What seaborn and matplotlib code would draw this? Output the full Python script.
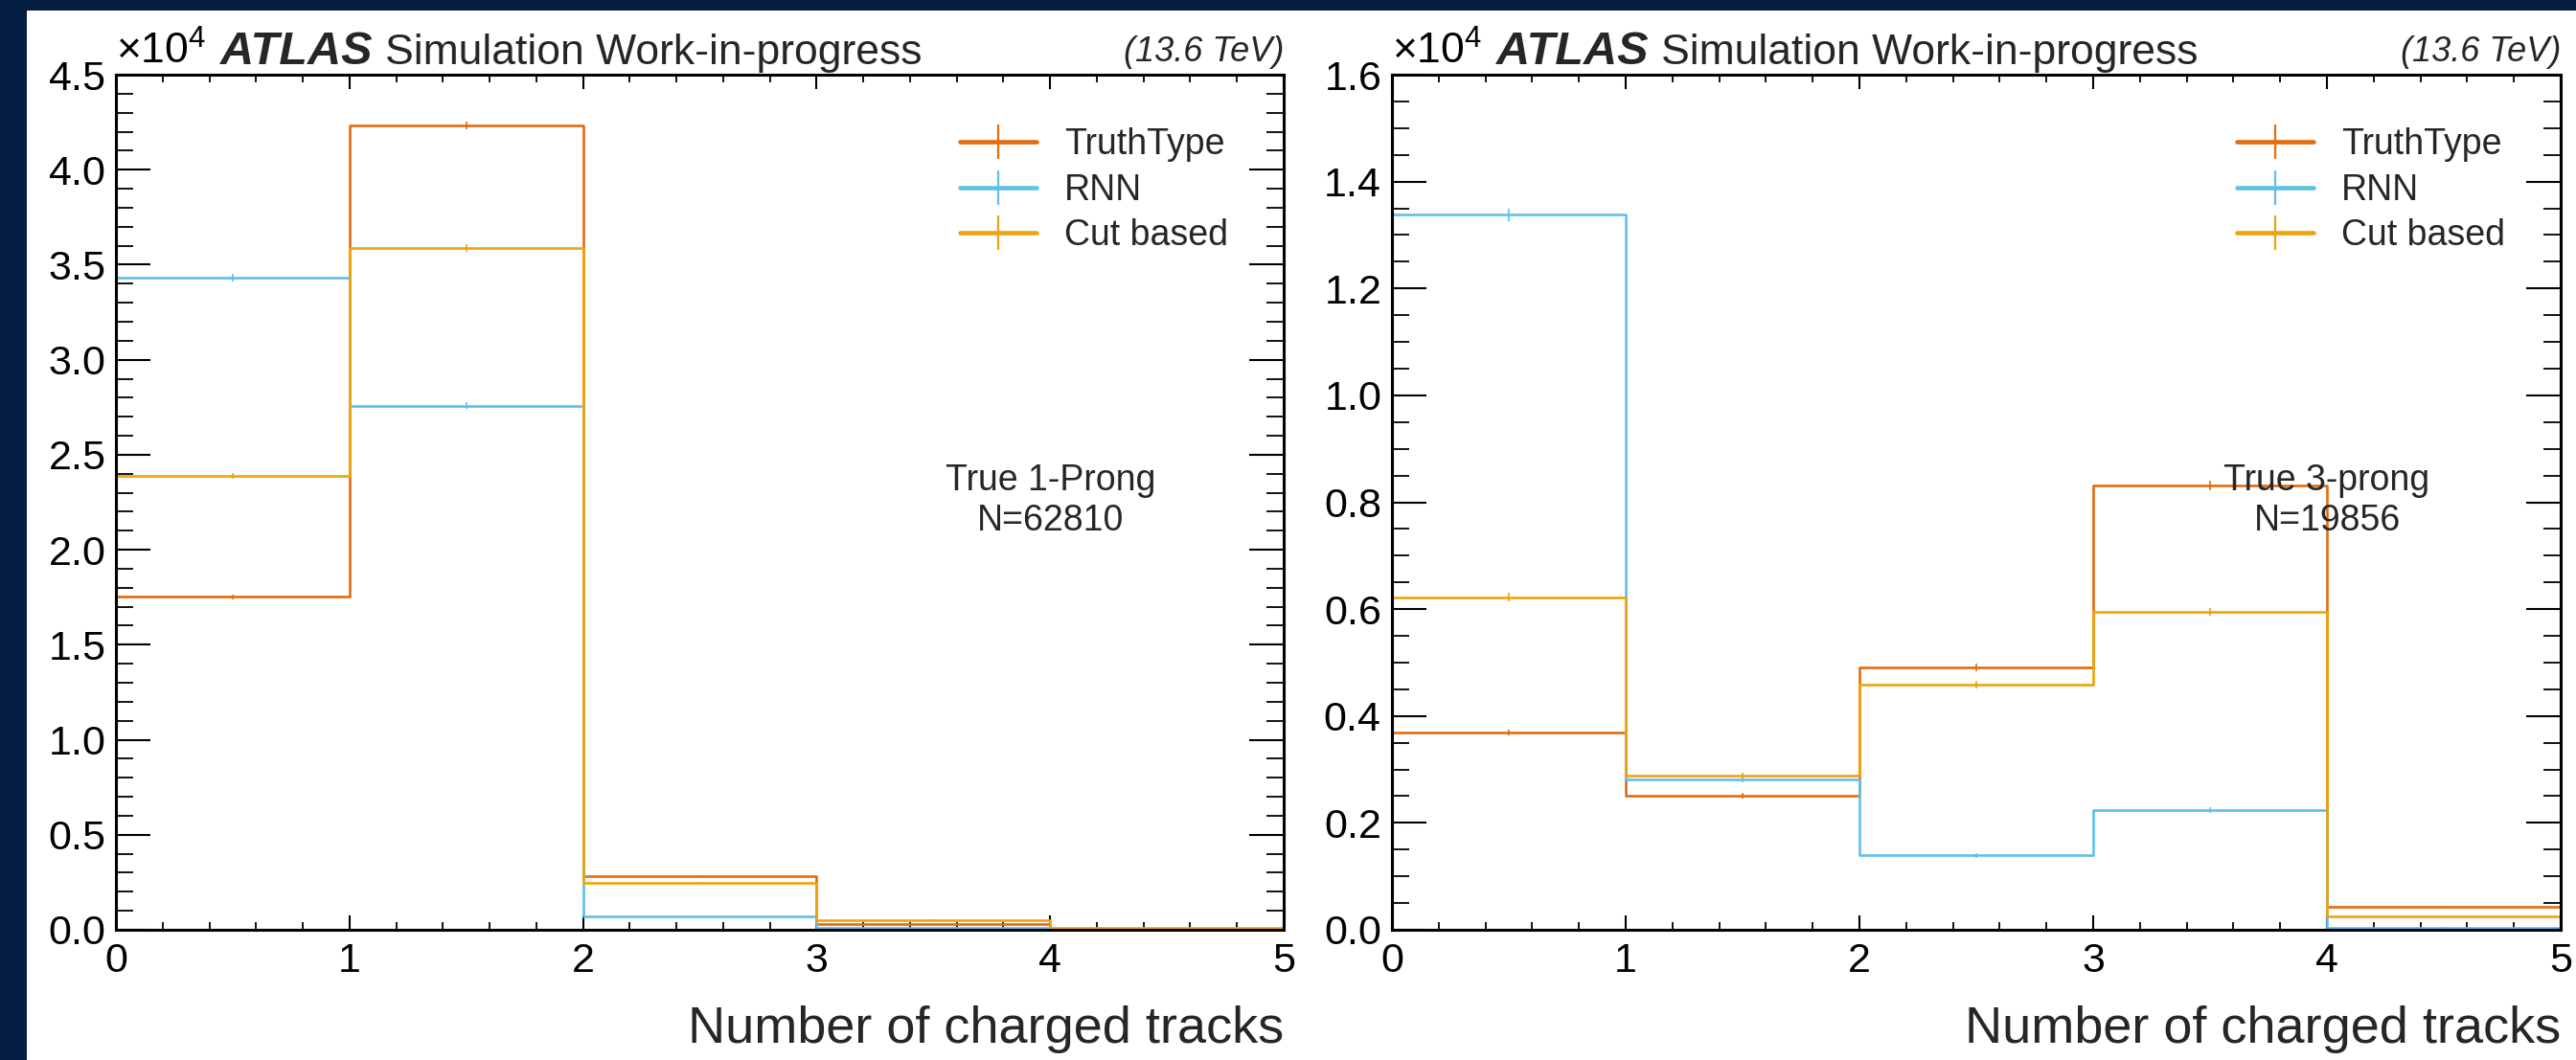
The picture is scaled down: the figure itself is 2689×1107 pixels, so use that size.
import numpy as np
import pandas as pd
import matplotlib
matplotlib.use("Agg")
import matplotlib.pyplot as plt
import matplotlib.ticker as mticker
import matplotlib.transforms as mtrans
from matplotlib.lines import Line2D
from matplotlib.patches import Rectangle
import seaborn as sns

# ---------------- data ----------------
edges = [0, 1, 2, 3, 4, 5]
centers = [0.5, 1.5, 2.5, 3.5, 4.5]
series_names = ["TruthType", "RNN", "Cut based"]
colors = ["#e36c0e", "#5fbfeb", "#eda40b"]

# True 1-prong panel (counts per bin)
p1_truth = [17520, 42310, 2840, 300, 40]
p1_rnn = [34320, 27580, 720, 120, 10]
p1_cut = [23880, 35870, 2460, 520, 90]

# True 3-prong panel (counts per bin)
p3_truth = [3690, 2510, 4910, 8320, 435]
p3_rnn = [13380, 2820, 1390, 2240, 40]
p3_cut = [6220, 2890, 4590, 5950, 256]

panel_texts = ["True 1-Prong\nN=62810", "True 3-prong\nN=19856"]
x_ticks = [0, 1, 2, 3, 4, 5]
xlabel = "Number of charged tracks"

# ---------------- style ----------------
sns.set_style("ticks")
plt.rcParams["font.family"] = ["Liberation Sans", "DejaVu Sans"]
plt.rcParams["mathtext.fontset"] = "custom"
plt.rcParams["mathtext.rm"] = "Liberation Sans"
plt.rcParams["mathtext.it"] = "Liberation Sans:italic"
plt.rcParams["mathtext.bf"] = "Liberation Sans:bold"

W, H = 2689, 1107
fig = plt.figure(figsize=(W / 100, H / 100), dpi=100)
fig.patch.set_facecolor("#031e42")
fig.add_artist(Rectangle((28 / W, 0), 1, 1 - 11 / H, transform=fig.transFigure,
                         facecolor="white", edgecolor="none", zorder=-10))

ax1 = fig.add_axes([121 / W, 136 / H, 1219 / W, 893 / H])
ax2 = fig.add_axes([1453 / W, 136 / H, 1220 / W, 893 / H])

panels = [
    (ax1, [p1_truth, p1_rnn, p1_cut], 45000, 5000, 1000, panel_texts[0]),
    (ax2, [p3_truth, p3_rnn, p3_cut], 16000, 2000, 500, panel_texts[1]),
]

for ax, series, ymax, ymaj, ymin, ptxt in panels:
    ax.set_facecolor("white")
    for name, vals, col in zip(series_names, series, colors):
        df = pd.DataFrame({"x": centers, "w": vals})
        sns.histplot(data=df, x="x", weights="w", bins=edges, element="step",
                     fill=False, color=col, linewidth=1.9, ax=ax)
        ax.errorbar(centers, vals, yerr=np.sqrt(vals), fmt="none", ecolor=col,
                    elinewidth=1.2)
    ax.set_xlim(0, 5)
    ax.set_ylim(0, ymax)
    ax.set_ylabel("")
    ax.xaxis.set_major_locator(mticker.FixedLocator(x_ticks))
    ax.xaxis.set_minor_locator(mticker.MultipleLocator(0.2))
    ax.yaxis.set_major_locator(mticker.MultipleLocator(ymaj))
    ax.yaxis.set_minor_locator(mticker.MultipleLocator(ymin))
    fmt = mticker.ScalarFormatter(useMathText=True)
    fmt.set_powerlimits((0, 0))
    ax.yaxis.set_major_formatter(fmt)
    ax.yaxis.OFFSETTEXTPAD = 8
    ax.yaxis.offsetText.set_fontsize(32)

    ax.tick_params(which="both", direction="in", top=True, right=True,
                   colors="black", labelsize=31)
    ax.tick_params(axis="x", which="major", length=10.8, width=1.5, pad=9.4)
    ax.tick_params(axis="x", which="minor", length=5.8, width=1.3)
    ax.tick_params(axis="y", which="major", length=26, width=1.5, pad=8)
    ax.tick_params(axis="y", which="minor", length=13.3, width=1.3)
    for sp in ax.spines.values():
        sp.set_linewidth(2.2)
        sp.set_color("black")
        sp.set_visible(True)

    ax.set_xlabel(xlabel, fontsize=39, ha="right")
    ax.xaxis.set_label_coords(1.0, -0.088)

    # header
    ax.text(0.0897, 1 + 11 / 893, "ATLAS", transform=ax.transAxes, fontsize=35,
            fontweight="bold", fontstyle="italic", ha="left", va="baseline")
    ax.text(0.2305, 1 + 11 / 893, "Simulation Work-in-progress", transform=ax.transAxes,
            fontsize=32, ha="left", va="baseline")
    ax.text(1.0, 1 + 14 / 893, "(13.6 TeV)", transform=ax.transAxes, fontsize=26,
            fontstyle="italic", ha="right", va="baseline")

    # annotation
    tr = mtrans.blended_transform_factory(ax.transData, ax.transAxes)
    ax.text(4, 0.5454, ptxt, transform=tr, fontsize=27, ha="center", va="top",
            multialignment="center")

    handles = [Line2D([0], [0], color=c, lw=3.3, marker="|", markersize=26,
                      markeredgewidth=1.6) for c in colors]
    ax.legend(handles, series_names, loc="upper right",
              bbox_to_anchor=(1 - 58 / 1219, 1 - 55 / 893), borderaxespad=0,
              borderpad=0, frameon=False, fontsize=27, handlelength=2.13,
              handletextpad=0.78, labelspacing=0.31)

fig.savefig("out.png", dpi=100, facecolor=fig.get_facecolor())
